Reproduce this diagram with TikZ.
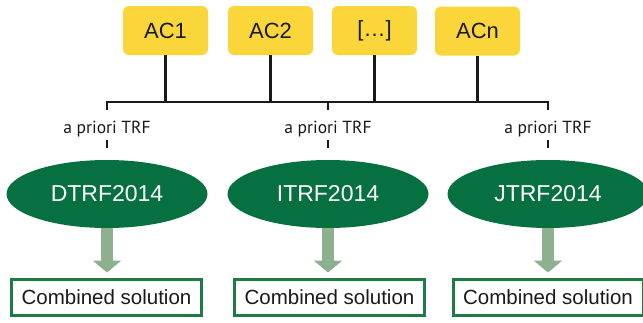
\documentclass[tikz,border=0pt]{standalone}
\usepackage{fontspec}
\setmainfont{Liberation Sans}
\newfontfamily\priorfont{PT Sans}
\usetikzlibrary{shapes.geometric,arrows.meta}
\definecolor{acyellow}{RGB}{251,214,58}
\definecolor{trfgreen}{RGB}{6,112,64}
\definecolor{flowgreen}{RGB}{141,176,142}
\definecolor{boxgreen}{RGB}{30,123,69}
\definecolor{wirecol}{RGB}{26,26,26}

\begin{document}
\begin{tikzpicture}[x=1pt,y=-1pt,
    acbox/.style={fill=acyellow,rounded corners=6pt,minimum width=85pt,minimum height=49pt,inner sep=0pt,font=\fontsize{22}{24}\selectfont,text=wirecol},
    wire/.style={wirecol,line width=2.8pt},
    prior/.style={font=\priorfont\fontsize{17.5}{19}\selectfont,text=wirecol,text height=12pt,text depth=3pt,inner xsep=2pt,inner ysep=4pt},
    trf/.style={ellipse,fill=trfgreen,minimum width=201pt,minimum height=68pt,inner sep=0pt,text=white,font=\fontsize{23}{25}\selectfont},
    flow/.style={flowgreen,line width=11.5pt,-{Triangle[width=28pt,length=12pt]},shorten >=5.5pt},
    solbox/.style={draw=boxgreen,line width=3pt,fill=white,minimum width=190pt,minimum height=36pt,inner sep=0pt,font=\fontsize{20.5}{22}\selectfont,text=wirecol}]
            \useasboundingbox (0,0) rectangle (643,322);

            % analysis centres
            \node[acbox] (ac1) at (165.5,30.5) {AC1};
            \node[acbox] (ac2) at (270.5,30.5) {AC2};
            \node[acbox] (acdots) at (374.5,30.5) {[\ldots]};
            \node[acbox] (acn) at (477.5,31) {ACn};

            % bus line
            \coordinate (bus1) at (107,102);
            \coordinate (bus2) at (328,102);
            \coordinate (bus3) at (548,102);
            \draw[wire] ([xshift=-1.4pt]bus1) -- ([xshift=1.4pt]bus3);
            \draw[wire] (ac1.south) -- (ac1.south |- bus1);
            \draw[wire] (ac2.south) -- (ac2.south |- bus1);
            \draw[wire] (acdots.south) -- (acdots.south |- bus1);
            \draw[wire] (acn.south) -- (acn.south |- bus1);

            % a priori TRF labels
            \node[prior,anchor=base] (prior1) at (107,133) {a priori TRF};
            \node[prior,anchor=base] (prior2) at (328,133) {a priori TRF};
            \node[prior,anchor=base] (prior3) at (548,133) {a priori TRF};
            \draw[wire,shorten >=7pt] (bus1) -- (prior1.north);
            \draw[wire,shorten >=7pt] (bus2) -- (prior2.north);
            \draw[wire,shorten >=7pt] (bus3) -- (prior3.north);
            \draw[wire] (prior1.south) -- ([yshift=-8pt]prior1.south);
            \draw[wire] (prior2.south) -- ([yshift=-8pt]prior2.south);
            \draw[wire] (prior3.south) -- ([yshift=-8pt]prior3.south);

            % reference frames
            \node[trf] (dtrf) at (107,194) {DTRF2014};
            \node[trf] (itrf) at (328,194) {ITRF2014};
            \node[trf] (jtrf) at (548,194) {JTRF2014};

            % combined solutions
            \node[solbox] (sol1) at (106.5,297.5) {Combined solution};
            \node[solbox] (sol2) at (329.5,297.5) {Combined solution};
            \node[solbox] (sol3) at (548,297.5) {Combined solution};

            \draw[flow] (dtrf.south) -- (dtrf.south |- sol1.north);
            \draw[flow] (itrf.south) -- (itrf.south |- sol2.north);
            \draw[flow] (jtrf.south) -- (jtrf.south |- sol3.north);
        \end{tikzpicture}
\end{document}
